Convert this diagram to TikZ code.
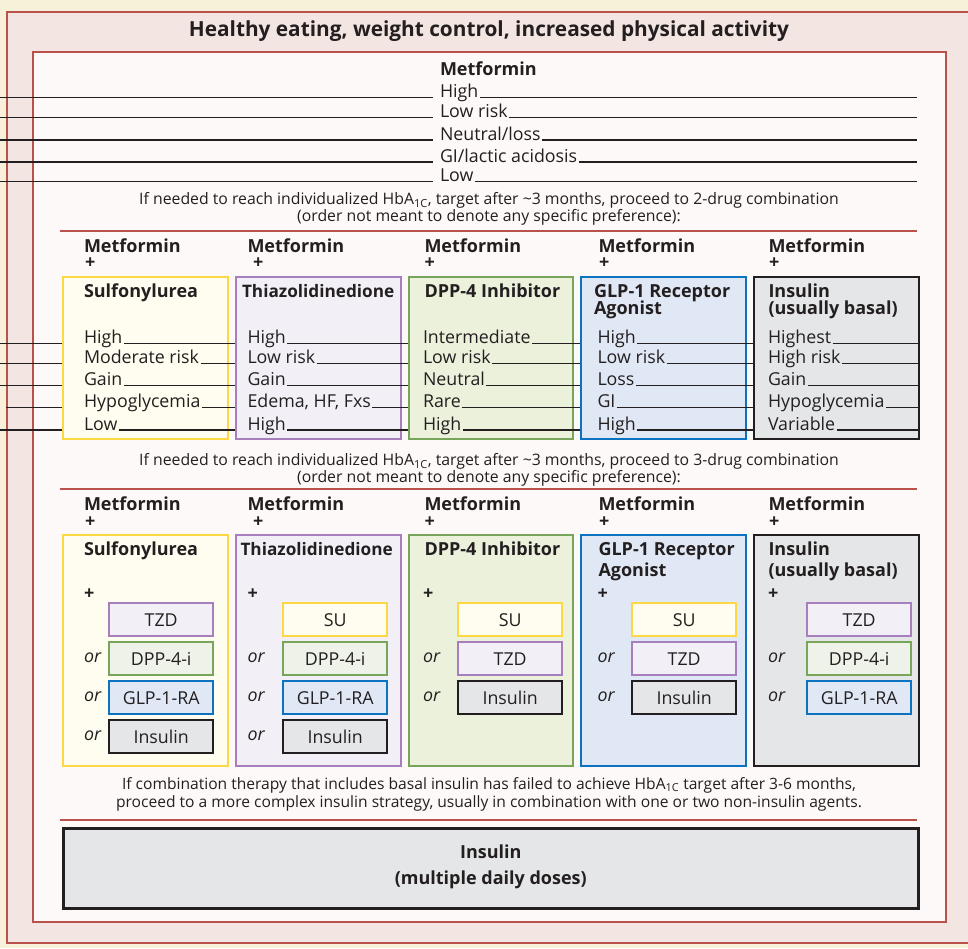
\documentclass[tikz,border=0pt]{standalone}
\usepackage{fontspec}
\setmainfont{Open Sans}
\definecolor{cream}{HTML}{F8F1D9}
\definecolor{pinkbg}{HTML}{F3E5E1}
\definecolor{redb}{HTML}{B9524A}
\definecolor{innerbg}{HTML}{FDF9F8}
\definecolor{ink}{HTML}{231F20}
\definecolor{bord1}{HTML}{FDD843}
\definecolor{fill1}{HTML}{FFFDEF}
\definecolor{bord2}{HTML}{A77FBC}
\definecolor{fill2}{HTML}{F3EFF7}
\definecolor{bord3}{HTML}{77A55A}
\definecolor{fill3}{HTML}{ECF1DC}
\definecolor{sfill3}{HTML}{EEF2E9}
\definecolor{bord4}{HTML}{0B73BF}
\definecolor{fill4}{HTML}{E1E8F5}
\definecolor{bord5}{HTML}{231F20}
\definecolor{fill5}{HTML}{E5E6E8}
\newcommand{\fsz}[1]{\fontsize{#1pt}{#1pt}\selectfont}
\tikzset{
  body/.style={inner sep=0pt, outer xsep=1.5pt, outer ysep=0pt, xshift=-1.5pt, anchor=base west, text=ink, font=\fsz{17.8}},
  bold/.style={body, font=\fsz{18}\bfseries},
  orlab/.style={body, font=\fsz{17.8}\itshape},
  note/.style={inner sep=0pt, anchor=base, text=ink, font=\fsz{15.8}},
  colbox/.style={draw=bord#1, fill=fill#1, line width=2pt, anchor=north west, minimum width=164.5pt, inner sep=0pt},
  smallbox/.style={line width=2.4pt, anchor=north west, minimum width=104pt, minimum height=33pt, inner sep=0pt, text=ink, font=\fsz{17.8}},
  leader/.style={draw=ink, line width=1.3pt},
  sepline/.style={draw=redb, line width=2pt},
}
\begin{document}
\begin{tikzpicture}[x=1pt,y=-1pt]
\clip (0,0) rectangle (968,948);
\fill[cream] (0,0) rectangle (968,948);
\filldraw[fill=pinkbg, draw=redb, line width=2pt] (7,12) rectangle (980,943);
\filldraw[fill=innerbg, draw=redb, line width=2.5pt] (33,52) rectangle (946,922);
\node[anchor=base, inner sep=0pt, text=ink, font=\fsz{20.8}\bfseries] (title) at (489,36.7) {Healthy eating, weight control, increased physical activity};

% ---------- Metformin alone ----------
\node[bold] (met0) at (440,75) {Metformin};
\foreach \r/\y/\t in {1/97.3/High, 2/117.5/Low risk, 3/140/{Neutral/loss}, 4/162/{GI/lactic acidosis\ }, 5/181.7/Low}{
  \node[body] (m\r) at (440,\y) {\t};
  \coordinate (ml\r) at (0,\y);
  \coordinate (mr\r) at (917,\y);
  \draw[leader] (ml\r) -- ([xshift=-6pt]m\r.base west);
  \draw[leader] (m\r.base east) -- (mr\r);
}
\node[note] (n2a) at (489,204) {If needed to reach individualized HbA\textsubscript{1C}, target after \textasciitilde3 months, proceed to 2-drug combination};
\node[note] (n2b) at (489,221.5) {(order not meant to denote any specific preference):};
\coordinate (s1a) at (60,231); \coordinate (s1b) at (917,231);
\draw[sepline] (s1a) -- (s1b);

% ---------- 2-drug combination ----------
\foreach \c/\bl/\tx/\px in {1/62/84/85, 2/235/247.5/253, 3/407.5/424.5/424.5, 4/580/598.5/599, 5/753/768.5/769}{
  \node[colbox=\c, minimum height=162pt] (tb\c) at (\bl,276) {};
  \node[bold] (tm\c) at (\tx,252) {Metformin};
  \node[bold] (tp\c) at (\px,268.5) {+};
}
\node[bold] (th1) at (84,297) {Sulfonylurea};
\node[bold, font=\fsz{17.2}\bfseries] (th2) at (242,297) {Thiazolidinedione};
\node[bold] (th3) at (424.5,297) {DPP-4 Inhibitor};
\node[bold] (th4) at (594,297) {GLP-1 Receptor};
\node[bold] (th4b) at (594,314) {Agonist};
\node[bold] (th5) at (768.5,297) {Insulin};
\node[bold] (th5b) at (768.5,314) {(usually basal)};

\foreach \r/\y/\t in {1/343.3/High, 2/363.5/Moderate risk, 3/385.7/Gain, 4/407.7/Hypoglycemia\ , 5/430/Low}
  \node[body] (a1\r) at (84,\y) {\t};
\foreach \r/\y/\t in {1/343.3/High, 2/363.5/Low risk, 3/385.7/Gain, 4/407.7/{Edema, HF, Fxs\ }, 5/430/High}
  \node[body] (a2\r) at (247.5,\y) {\t};
\foreach \r/\y/\t in {1/343.3/Intermediate\ , 2/363.5/Low risk, 3/385.7/Neutral\ , 4/407.7/Rare\ , 5/430/High\ }
  \node[body] (a3\r) at (423,\y) {\t};
\foreach \r/\y/\t in {1/343.3/High, 2/363.5/Low risk, 3/385.7/Loss, 4/407.7/GI\ , 5/430/High}
  \node[body] (a4\r) at (597.5,\y) {\t};
\foreach \r/\y/\t in {1/343.3/Highest, 2/363.5/High risk, 3/385.7/Gain, 4/407.7/Hypoglycemia, 5/430/Variable}
  \node[body] (a5\r) at (768,\y) {\t};

\foreach \r/\x/\y in {1/0/343.3, 2/0/363.5, 3/0/385.7, 4/6/407.7, 5/0/430}{
  \coordinate (al\r) at (\x,\y);
  \draw[leader] (al\r) -- (al\r -| tb1.west);
}
\foreach \c/\n in {1/2, 2/3, 3/4, 4/5}
  \foreach \r in {1,...,5}
    \draw[leader] (a\c\r.base east) -- (a\c\r.base east -| tb\n.west);
\foreach \r in {1,...,5}
  \draw[leader] (a5\r.base east) -- (a5\r.base east -| tb5.east);

\node[note] (n3a) at (489,465) {If needed to reach individualized HbA\textsubscript{1C}, target after \textasciitilde3 months, proceed to 3-drug combination};
\node[note] (n3b) at (489,482) {(order not meant to denote any specific preference):};
\coordinate (s2a) at (60,489); \coordinate (s2b) at (917,489);
\draw[sepline] (s2a) -- (s2b);

% ---------- 3-drug combination ----------
\foreach \c/\bl/\tx/\px in {1/62/84/85, 2/235/247.5/253, 3/407.5/424.5/424.5, 4/580/598.5/599, 5/753/768.5/769}{
  \node[colbox=\c, minimum height=231pt] (db\c) at (\bl,534) {};
  \node[bold] (dm\c) at (\tx,510) {Metformin};
  \node[bold] (dp\c) at (\px,527) {+};
}
\node[bold] (dh1) at (84,555) {Sulfonylurea};
\node[bold, font=\fsz{17.2}\bfseries] (dh2) at (240.5,555) {Thiazolidinedione};
\node[bold] (dh3) at (424.5,555) {DPP-4 Inhibitor};
\node[bold] (dh4) at (598.5,555) {GLP-1 Receptor};
\node[bold] (dh4b) at (598.5,576) {Agonist};
\node[bold] (dh5) at (768.5,555) {Insulin};
\node[bold] (dh5b) at (768.5,576) {(usually basal)};
\foreach \c/\tx in {1/84, 2/247.5, 3/423, 4/597.5, 5/768}
  \node[bold] (dq\c) at (\tx,599) {+};

% small option boxes
\foreach \k/\t/\d/\f in {0/TZD/bord2/fill2, 1/DPP-4-i/bord3/sfill3, 2/GLP-1-RA/bord4/fill4, 3/Insulin/bord5/fill5}
  \node[smallbox, draw=\d, fill=\f] (o1\k) at (108,602+39*\k) {\t};
\foreach \k/\t/\d/\f in {0/SU/bord1/fill1, 1/DPP-4-i/bord3/sfill3, 2/GLP-1-RA/bord4/fill4, 3/Insulin/bord5/fill5}
  \node[smallbox, draw=\d, fill=\f] (o2\k) at (282,602+39*\k) {\t};
\foreach \k/\t/\d/\f in {0/SU/bord1/fill1, 1/TZD/bord2/fill2, 2/Insulin/bord5/fill5}
  \node[smallbox, draw=\d, fill=\f] (o3\k) at (457,602+39*\k) {\t};
\foreach \k/\t/\d/\f in {0/SU/bord1/fill1, 1/TZD/bord2/fill2, 2/Insulin/bord5/fill5}
  \node[smallbox, draw=\d, fill=\f] (o4\k) at (631,602+39*\k) {\t};
\foreach \k/\t/\d/\f in {0/TZD/bord2/fill2, 1/DPP-4-i/bord3/sfill3, 2/GLP-1-RA/bord4/fill4}
  \node[smallbox, draw=\d, fill=\f] (o5\k) at (806,602+39*\k) {\t};

\foreach \k in {1,2,3}{
  \node[orlab] (or1\k) at (84,623+39*\k) {or};
  \node[orlab] (or2\k) at (247.5,623+39*\k) {or};
}
\foreach \k in {1,2}{
  \node[orlab] (or3\k) at (423,623+39*\k) {or};
  \node[orlab] (or4\k) at (597.5,623+39*\k) {or};
  \node[orlab] (or5\k) at (768,623+39*\k) {or};
}

\node[note, font=\fsz{15.6}] (nba) at (489,789) {If combination therapy that includes basal insulin has failed to achieve HbA\textsubscript{1C} target after 3-6 months,};
\node[note, font=\fsz{15.6}] (nbb) at (489,807.5) {proceed to a more complex insulin strategy, usually in combination with one or two non-insulin agents.};
\coordinate (s3a) at (60,820); \coordinate (s3b) at (917,820);
\draw[sepline] (s3a) -- (s3b);

\node[draw=ink, fill=fill5, line width=2.5pt, anchor=north west, minimum width=855pt, minimum height=80pt, inner sep=0pt] (mdd) at (62,827) {};
\node[anchor=base, inner sep=0pt, text=ink, font=\fsz{18}\bfseries] (mdd1) at (mdd.center |- 0,858) {Insulin};
\node[anchor=base, inner sep=0pt, text=ink, font=\fsz{18}\bfseries] (mdd2) at (mdd.center |- 0,884) {(multiple daily doses)};
\end{tikzpicture}
\end{document}
